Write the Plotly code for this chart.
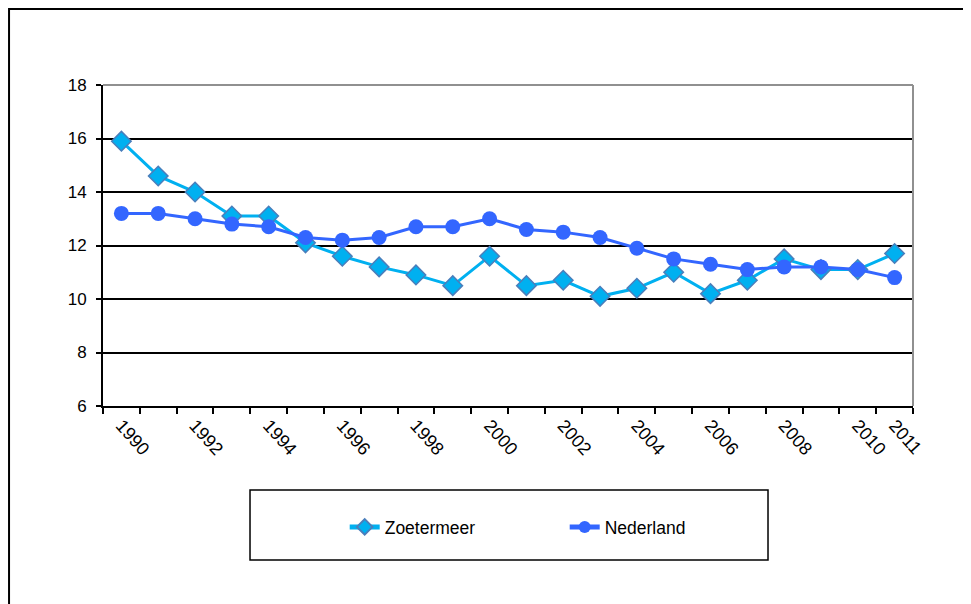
import plotly.graph_objects as go

years = list(range(1990, 2012))
zoetermeer = [15.9, 14.6, 14.0, 13.1, 13.1, 12.1, 11.6, 11.2, 10.9, 10.5, 11.6,
              10.5, 10.7, 10.1, 10.4, 11.0, 10.2, 10.7, 11.5, 11.1, 11.1, 11.7]
nederland = [13.2, 13.2, 13.0, 12.8, 12.7, 12.3, 12.2, 12.3, 12.7, 12.7, 13.0,
             12.6, 12.5, 12.3, 11.9, 11.5, 11.3, 11.1, 11.2, 11.2, 11.1, 10.8]
x_labels = [1990, 1992, 1994, 1996, 1998, 2000, 2002, 2004, 2006, 2008, 2010, 2011]
y_ticks = [6, 8, 10, 12, 14, 16, 18]

fig = go.Figure()

fig.add_trace(go.Scatter(x=years, y=zoetermeer, name="Zoetermeer", mode="lines+markers",
                         line=dict(color="#00B0F0", width=3),
                         marker=dict(symbol="diamond", size=15, color="#00B0F0",
                                     line=dict(color="#4A7EBB", width=1.5))))
fig.add_trace(go.Scatter(x=years, y=nederland, name="Nederland", mode="lines+markers",
                         line=dict(color="#3366FF", width=3),
                         marker=dict(symbol="circle", size=15, color="#3366FF")))

# outer chart border, plot area border (gray) and legend box
fig.add_shape(type="rect", xref="paper", yref="paper", x0=-0.116, x1=1.1, y0=-0.7, y1=1.2368,
              line=dict(color="black", width=2), layer="below")
fig.add_shape(type="line", xref="paper", yref="paper", x0=0, x1=1, y0=1, y1=1,
              line=dict(color="#909090", width=2), layer="above")
fig.add_shape(type="line", xref="paper", yref="paper", x0=1, x1=1, y0=0, y1=1,
              line=dict(color="#909090", width=2), layer="above")
fig.add_shape(type="rect", xref="paper", yref="paper", x0=0.1815, x1=0.8210, y0=-0.480, y1=-0.262,
              line=dict(color="black", width=1.5))

fig.update_layout(
    width=971, height=604,
    margin=dict(l=95, r=66, t=77, b=206),
    paper_bgcolor="white", plot_bgcolor="white",
    font=dict(family="Liberation Sans, Arial", size=17, color="black"),
    showlegend=True,
    legend=dict(orientation="h", x=0.57, xanchor="center", y=-0.377, yanchor="middle",
                font=dict(size=17.5), entrywidth=175, itemsizing="constant",
                bgcolor="rgba(0,0,0,0)"),
    xaxis=dict(range=[1989.5, 2011.5], tickvals=x_labels, ticktext=[str(v) for v in x_labels],
               tickangle=48, ticks="", showgrid=False, zeroline=False, tickfont=dict(size=18),
               showline=True, linecolor="black", linewidth=2,
               minor=dict(tick0=1989.5, dtick=1, ticks="outside", ticklen=6,
                          tickcolor="black", tickwidth=1.5, showgrid=False)),
    yaxis=dict(range=[6, 18], tickvals=y_ticks, ticks="outside", ticklen=5, tickcolor="black",
               tickwidth=1.5, showgrid=True, gridcolor="black", gridwidth=1.5, zeroline=False,
               showline=True, linecolor="black", linewidth=2, ticklabelstandoff=6),
)

fig.write_html("out.html")
